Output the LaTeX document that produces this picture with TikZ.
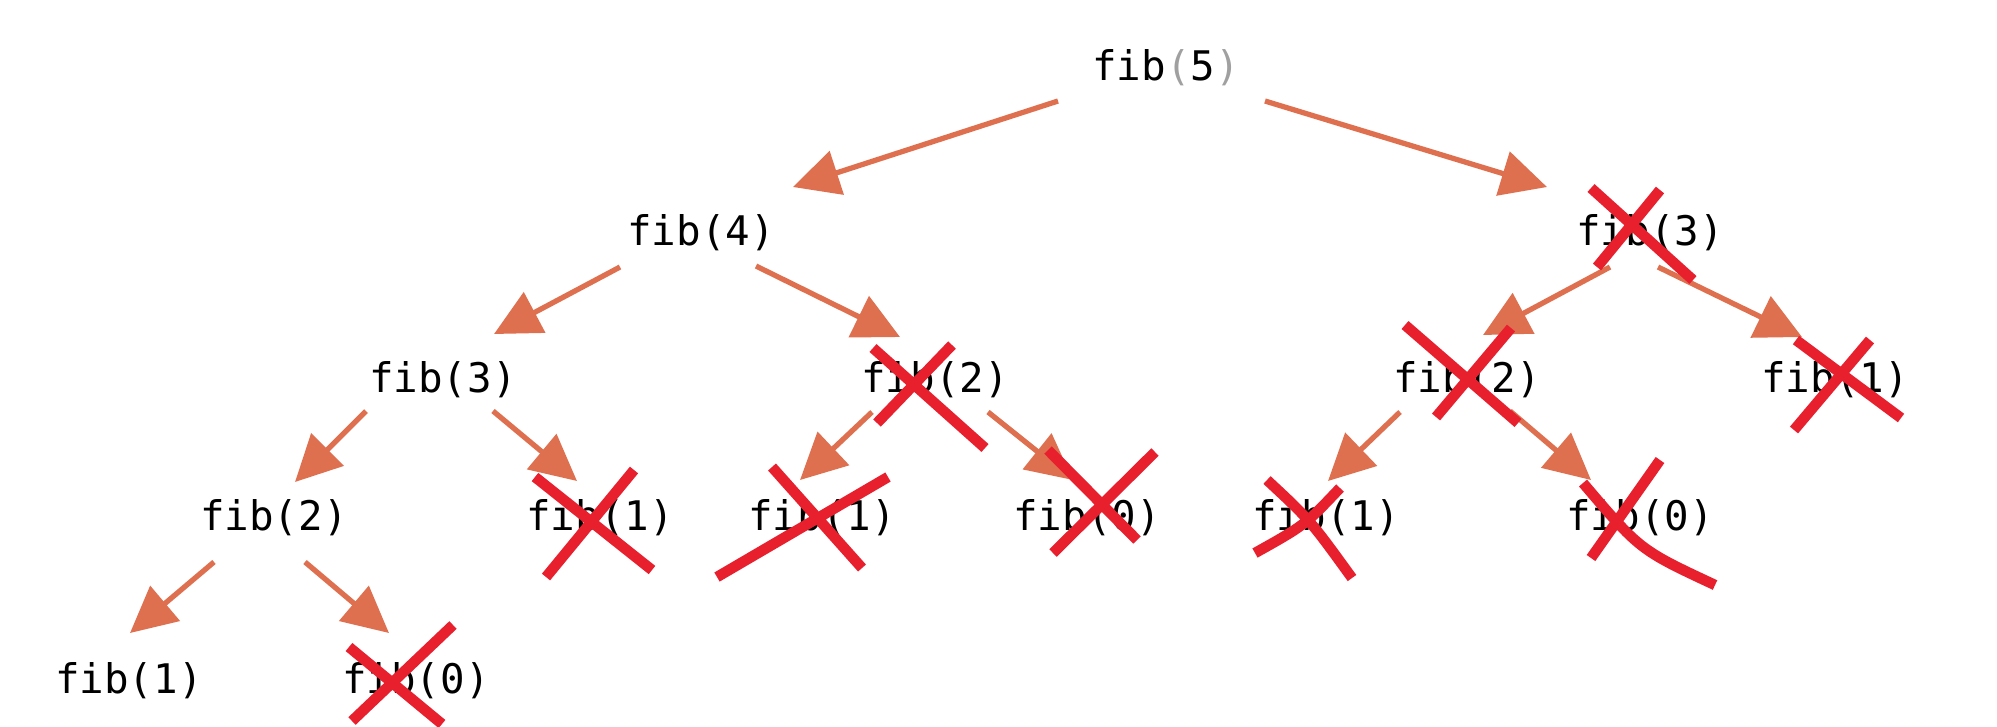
\documentclass[tikz,border=0pt]{standalone}
\usepackage{fontspec}
\setmonofont{DejaVu Sans Mono}
\definecolor{FibOrange}{RGB}{222,112,80}
\definecolor{FibRed}{RGB}{232,32,46}
\definecolor{FibGrey}{RGB}{160,160,160}
\usepackage{tikz}
\usetikzlibrary{arrows.meta}

\begin{document}
\begin{tikzpicture}[x=0.01cm, y=-0.01cm,
        call/.style={font=\fontsize{11.6}{14}\selectfont\ttfamily, anchor=base, inner sep=0pt},
        callarrow/.style={-{Triangle[length=0.46cm,width=0.45cm]}, line width=1.5pt, FibOrange},
        cross/.style={line width=3pt, FibRed}]
        \useasboundingbox (0,0) rectangle (1997,726);
        % the calls, one row per depth
        \node[call] (p5) at (1166,80) {fib\textcolor{FibGrey}{(}5\textcolor{FibGrey}{)}};
        \node[call] (p4) at (701,245) {fib(4)};
        \node[call] (p3R) at (1650,245) {fib(3)};
        \node[call] (p3L) at (443,392) {fib(3)};
        \node[call] (p2M) at (935,392) {fib(2)};
        \node[call] (p2R) at (1467,392) {fib(2)};
        \node[call] (p1RR) at (1835,392) {fib(1)};
        \node[call] (p2L) at (274,530) {fib(2)};
        \node[call] (p1a) at (600,530) {fib(1)};
        \node[call] (p1b) at (822,530) {fib(1)};
        \node[call] (p0b) at (1087,530) {fib(0)};
        \node[call] (p1c) at (1326,530) {fib(1)};
        \node[call] (p0c) at (1640,530) {fib(0)};
        \node[call] (p1bot) at (129,693) {fib(1)};
        \node[call] (p0bot) at (416,693) {fib(0)};
        % recursive calls
        \draw[callarrow] ([shift={(-108,21)}]p5.base) -- ([shift={(92,-58)}]p4.base);
        \draw[callarrow] ([shift={(99,21)}]p5.base) -- ([shift={(-103,-58)}]p3R.base);
        \draw[callarrow] ([shift={(-81,22)}]p4.base) -- ([shift={(51,-58)}]p3L.base);
        \draw[callarrow] ([shift={(55,21)}]p4.base) -- ([shift={(-35,-55)}]p2M.base);
        \draw[callarrow] ([shift={(-40,22)}]p3R.base) -- ([shift={(16,-57)}]p2R.base);
        \draw[callarrow] ([shift={(8,22)}]p3R.base) -- ([shift={(-33,-55)}]p1RR.base);
        \draw[callarrow] ([shift={(-77,19)}]p3L.base) -- ([shift={(21,-48)}]p2L.base);
        \draw[callarrow] ([shift={(50,19)}]p3L.base) -- ([shift={(-23,-49)}]p1a.base);
        \draw[callarrow] ([shift={(-63,20)}]p2M.base) -- ([shift={(-22,-50)}]p1b.base);
        \draw[callarrow] ([shift={(53,20)}]p2M.base) -- ([shift={(-14,-50)}]p0b.base);
        \draw[callarrow] ([shift={(-67,20)}]p2R.base) -- ([shift={(2,-49)}]p1c.base);
        \draw[callarrow] ([shift={(43,19)}]p2R.base) -- ([shift={(-49,-50)}]p0c.base);
        \draw[callarrow] ([shift={(-60,32)}]p2L.base) -- ([shift={(1,-60)}]p1bot.base);
        \draw[callarrow] ([shift={(31,32)}]p2L.base) -- ([shift={(-27,-60)}]p0bot.base);
        % crossed-out (repeated) calls
        \draw[cross] (1591,188) -- (1693,280) (1660,190) -- (1597,267);
        \draw[cross] (873,348) -- (985,448) (952,345) -- (877,423);
        \draw[cross] (1405,325) -- (1518,423) (1511,328) -- (1436,417);
        \draw[cross] (1796,340) -- (1901,418) (1870,340) -- (1794,430);
        \draw[cross] (535,477) -- (652,570) (634,470) -- (546,577);
        \draw[cross] (772,467) -- (862,568) (888,477) -- (717,577);
        \draw[cross] (1048,450) -- (1137,540) (1155,452) -- (1053,553);
        \draw[cross] (1267,480) .. controls (1310,520) .. (1352,578) (1340,488) .. controls (1305,525) .. (1255,553);
        \draw[cross] (1583,483) .. controls (1640,550) .. (1715,585) (1660,460) -- (1591,558);
        \draw[cross] (349,647) -- (442,724) (453,625) -- (352,721);
    \end{tikzpicture}
\end{document}
